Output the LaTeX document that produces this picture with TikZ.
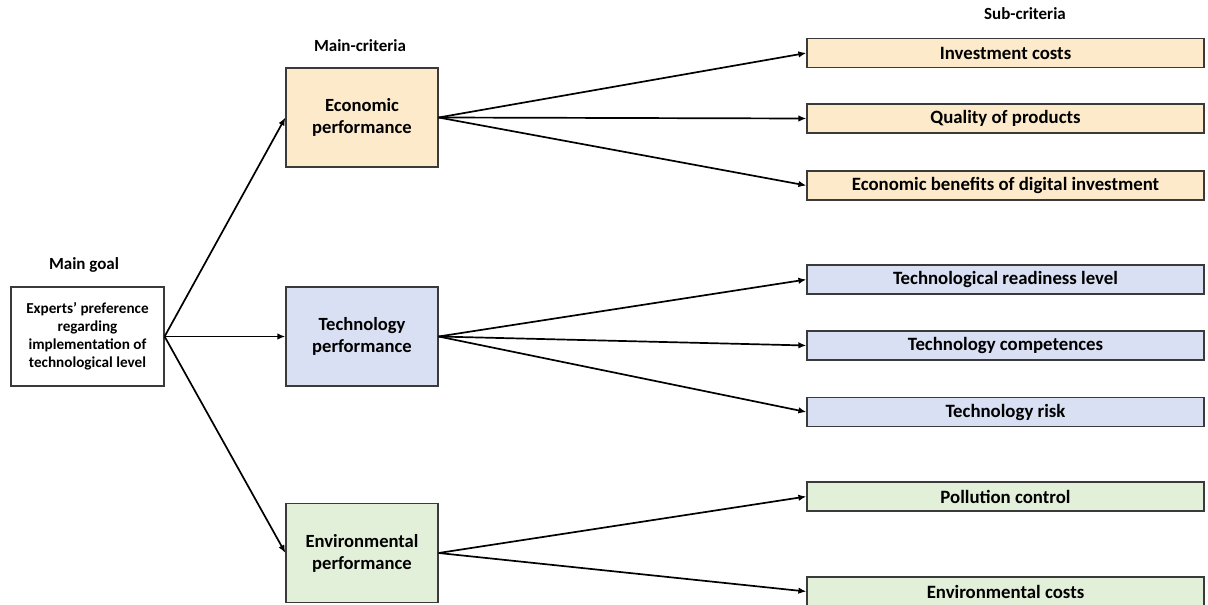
\documentclass[tikz,border=0pt]{standalone}
\usepackage{fontspec}
\setmainfont{Carlito}
\usetikzlibrary{arrows.meta}
\definecolor{econ}{HTML}{FCEACB}
\definecolor{tech}{HTML}{DAE0F3}
\definecolor{envi}{HTML}{E2EFD9}
\definecolor{edge}{HTML}{3A3A3A}
\tikzset{
  box/.style={draw=edge, line width=1.2pt, inner sep=0pt, align=center, font=\bfseries\fontsize{18.8}{22}\selectfont},
  mainbox/.style={box, minimum width=152pt, minimum height=99pt, font=\bfseries\fontsize{18.6}{22}\selectfont},
  subbox/.style={box, minimum width=397pt, minimum height=29pt},
  goalbox/.style={box, fill=white, minimum width=153pt, minimum height=99pt, font=\bfseries\fontsize{15.2}{18}\selectfont},
  head/.style={font=\bfseries\fontsize{17}{19}\selectfont},
  conn/.style={line width=1.7pt, -{Latex[length=8pt,width=6.5pt]}}
}
\begin{document}
\begin{tikzpicture}[x=1pt,y=-1pt]
\useasboundingbox (0,0) rectangle (1208,605);
% headings
\node[head] (hgoal) at (84,265) {Main goal};
\node[head] (hmain) at (360,46) {Main-criteria};
\node[head] (hsub) at (1025,14) {Sub-criteria};
% goal
\node[goalbox] (goal) at (87.5,336.5) {Experts’ preference\\regarding\\implementation of\\technological level};
% main criteria
\node[mainbox, fill=econ] (eco) at (362,117.5) {Economic\\performance};
\node[mainbox, fill=tech] (tec) at (362,336.5) {Technology\\performance};
\node[mainbox, fill=envi] (env) at (362,553) {Environmental\\performance};
% sub criteria
\node[subbox, fill=econ] (s1) at (1005.5,53) {Investment costs};
\node[subbox, fill=econ] (s2) at (1005.5,118.5) {Quality of products};
\node[subbox, fill=econ] (s3) at (1005.5,185.5) {Economic benefits of digital investment};
\node[subbox, fill=tech] (s4) at (1005.5,279.5) {Technological readiness level};
\node[subbox, fill=tech] (s5) at (1005.5,345.5) {Technology competences};
\node[subbox, fill=tech] (s6) at (1005.5,412) {Technology risk};
\node[subbox, fill=envi] (s7) at (1005.5,496.5) {Pollution control};
\node[subbox, fill=envi] (s8) at (1005.5,591.5) {Environmental costs};
% connectors
\draw[conn] (goal.east) -- (eco.west);
\draw[conn] (goal.east) -- (tec.west);
\draw[conn] (goal.east) -- (env.west);
\draw[conn] (eco.east) -- (s1.west);
\draw[conn] (eco.east) -- (s2.west);
\draw[conn] (eco.east) -- (s3.west);
\draw[conn] (tec.east) -- (s4.west);
\draw[conn] (tec.east) -- (s5.west);
\draw[conn] (tec.east) -- (s6.west);
\draw[conn] (env.east) -- (s7.west);
\draw[conn] (env.east) -- (s8.west);
\end{tikzpicture}
\end{document}
